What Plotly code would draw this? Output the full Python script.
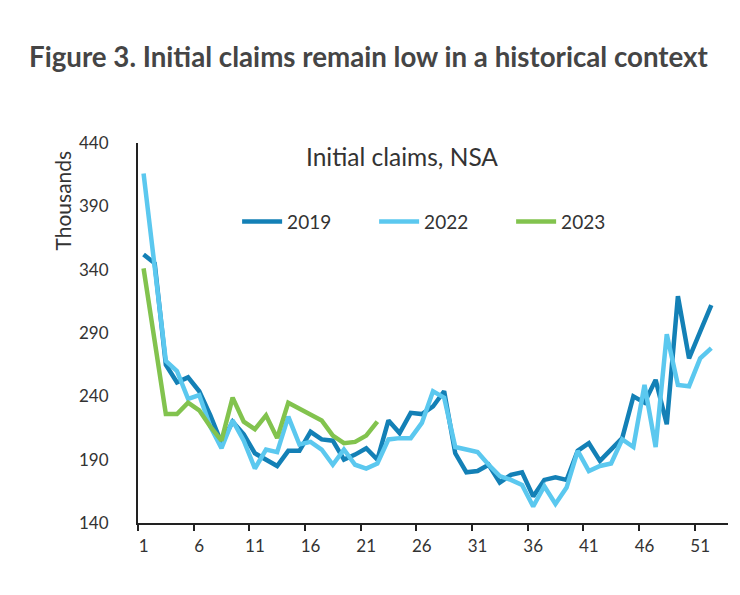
import plotly.graph_objects as go

weeks = list(range(1, 53))

claims_2019 = [352, 345, 265, 251, 255, 244, 225, 203, 220, 210,
               195, 190, 185, 197, 197, 212, 206, 205, 190, 194,
               199, 190, 221, 211, 227, 226, 232, 244, 195, 180,
               181, 186, 172, 178, 180, 161, 174, 176, 174, 197,
               203, 189, 198, 207, 240, 235, 253, 218, 319, 270,
               291, 312]

claims_2022 = [416, 341, 268, 260, 238, 241, 216, 199, 221, 205,
               183, 198, 196, 224, 202, 204, 198, 186, 198, 186,
               183, 187, 206, 207, 207, 219, 244, 239, 200, 198,
               196, 186, 177, 174, 170, 153, 169, 155, 168, 197,
               181, 185, 187, 206, 200, 249, 200, 289, 249, 248,
               270, 278]

claims_2023 = [341, 283, 226, 226, 235, 229, 216, 205, 239, 220,
               214, 225, 207, 235, 230, 226, 221, 209, 203, 204,
               209, 220]

series = [
    ("2019", claims_2019, "#1380B6"),
    ("2022", claims_2022, "#5BC8EF"),
    ("2023", claims_2023, "#82C34E"),
]

x_labels = [1, 6, 11, 16, 21, 26, 31, 36, 41, 46, 51]
y_ticks = [140, 190, 240, 290, 340, 390, 440]

FONT = "Lato"
TXT = "#333333"
W, H = 732, 587

fig = go.Figure()
for name, vals, col in series:
    fig.add_trace(go.Scatter(
        x=weeks[:len(vals)], y=vals, name=name, mode="lines",
        line=dict(color=col, width=4.5), hoverinfo="skip"))

fig.update_layout(
    width=W, height=H,
    paper_bgcolor="white", plot_bgcolor="white",
    margin=dict(l=130, r=12, t=135, b=72),
    font=dict(family=FONT, color=TXT, size=17),
    title=dict(
        text="<b>Figure 3. Initial claims remain low in a historical context</b>",
        xref="container", yref="container", x=21 / W, xanchor="left",
        y=1 - 49 / H, yanchor="middle",
        font=dict(family=FONT, size=27.7, color="#454545")),
    showlegend=True,
    legend=dict(orientation="h", x=0.168, y=0.793, xanchor="left", yanchor="middle",
                font=dict(size=19, color=TXT), bgcolor="rgba(0,0,0,0)",
                itemwidth=40, entrywidth=82, entrywidthmode="pixels"),
    xaxis=dict(
        range=[0.5, 53.5], tickmode="array", tickvals=x_labels,
        ticktext=[str(v) for v in x_labels], ticks="",
        showline=True, linecolor="#222222", linewidth=2,
        showgrid=False, zeroline=False, ticklabelstandoff=7,
        tickfont=dict(size=17, color=TXT),
        minor=dict(tickmode="linear", tick0=0.5, dtick=5, ticks="outside",
                   ticklen=6, tickwidth=2, tickcolor="#222222", showgrid=False),
    ),
    yaxis=dict(
        range=[140, 440], tickmode="array", tickvals=y_ticks, ticks="",
        showline=True, linecolor="#222222", linewidth=2,
        showgrid=False, zeroline=False, ticklabelstandoff=24,
        tickfont=dict(size=17, color=TXT),
    ),
    annotations=[
        dict(text="Initial claims, NSA", xref="paper", yref="paper",
             x=0.447, y=0.964, xanchor="center", yanchor="middle",
             showarrow=False, font=dict(size=24.5, color=TXT)),
        dict(text="Thousands", xref="paper", yref="paper",
             x=-0.128, y=0.85, xanchor="center", yanchor="middle",
             textangle=-90, showarrow=False, font=dict(size=21, color=TXT)),
    ],
)

fig.write_html("out.html")
